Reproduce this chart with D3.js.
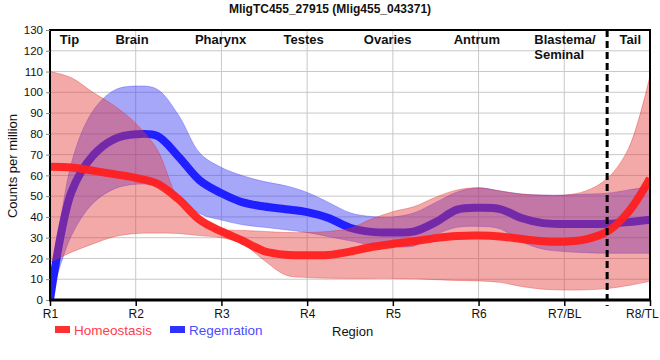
<!DOCTYPE html>
<html>
<head>
<meta charset="utf-8">
<script src="https://cdn.jsdelivr.net/npm/d3@7"></script>
<style>
  html, body { margin: 0; padding: 0; background: #fff; }
  svg { display: block; font-family: "Liberation Sans", Arial, sans-serif; }
</style>
</head>
<body>
<svg id="chart" width="660" height="360"></svg>
<script>
// ---------------- data ----------------
const title = "MligTC455_27915 (Mlig455_043371)";
const regions = ["R1", "R2", "R3", "R4", "R5", "R6", "R7/BL", "R8/TL"];
const tissueLabels = ["Tip", "Brain", "Pharynx", "Testes", "Ovaries", "Antrum", "Blastema/|Seminal", "Tail"];
const yTicks = [0, 10, 20, 30, 40, 50, 60, 70, 80, 90, 100, 110, 120, 130];
const seriesNames = ["Homeostasis", "Regenration"];

// sample positions along the body axis (region index, R1 = 0 ... R8/TL = 7)
const positions = [0, 0.25, 0.5, 0.75, 1, 1.25, 1.5, 1.75, 2, 2.25, 2.5, 2.75, 3, 3.25, 3.5, 3.75,
                   4, 4.25, 4.5, 4.75, 5, 5.25, 5.5, 5.75, 6, 6.25, 6.5, 6.75, 7];

const homeoMean  = [64.2, 63.8, 62.3, 60.6, 58.8, 56, 48.5, 38.5, 33, 28.5, 23.5, 21.8, 21.6, 21.7, 23.3, 25.5,
                    27, 28.3, 29.8, 30.8, 31, 30.6, 29.4, 28.3, 28.1, 29.2, 32.9, 42.5, 58.5];
const homeoUpper = [110, 107, 100, 93.5, 85, 72.5, 48, 37, 34, 33.5, 33, 32.5, 32.5, 33, 34.5, 39,
                    42.5, 45, 49.5, 53, 54, 52.5, 51, 50.5, 50.5, 52.5, 58.5, 73, 108];
const homeoLower = [18, 23, 27, 30.5, 32, 32.2, 32, 31, 30, 27, 19, 12, 10.8, 10.5, 10.4, 10.4,
                    10.4, 10.2, 9.8, 9.4, 9.2, 8.5, 6.5, 5.2, 4.8, 4.9, 5.5, 7, 9];

const regenMean  = [0, 52, 69.5, 77.5, 79.8, 79, 69, 57.5, 51.4, 47, 45, 43.7, 42.3, 39.5, 34.8, 32.8,
                    32.5, 33, 37.5, 43.5, 44.4, 43.8, 39.5, 37, 36.6, 36.6, 36.7, 37.5, 38.7];
const regenUpper = [0, 66, 91, 101, 103, 101.5, 89, 70.6, 63.8, 59.8, 57, 55, 51.8, 47, 42, 40.2,
                    40, 42, 47, 52, 54, 52.5, 51, 50.5, 50.5, 51, 51.4, 53, 54.6];
const regenLower = [0, 31, 46.5, 53.5, 55.7, 55, 49.5, 41.5, 38.5, 36.2, 35, 33.8, 32.5, 30.5, 28.5, 26.5,
                    25.7, 26, 31.5, 35, 35.4, 34.3, 28, 24.5, 23.3, 22.8, 22.5, 22.5, 22.5];

const dividerPos = 6.5; // boundary between Blastema/Seminal and Tail

// ---------------- layout ----------------
const svg = d3.select("#chart");
const W = 660, L = 50, R = 650, T = 30, B = 300;

const x = d3.scaleLinear().domain([0, 7]).range([L, R]);
const y = d3.scaleLinear().domain([0, 130]).range([B, T]);

const labelPos = [0.227, 0.957, 1.99, 2.96, 3.94, 4.98, 5.65, 6.77];

// gridlines
const grid = svg.append("g");
grid.selectAll("line.h").data(yTicks).join("line")
  .attr("x1", L).attr("x2", R)
  .attr("y1", d => y(d)).attr("y2", d => y(d))
  .attr("stroke", "#c8c8c8").attr("stroke-width", 1);
grid.selectAll("line.v").data(regions).join("line")
  .attr("x1", (d, i) => x(i)).attr("x2", (d, i) => x(i))
  .attr("y1", T).attr("y2", B)
  .attr("stroke", "#c8c8c8").attr("stroke-width", 1);

const makeRows = (mean, lo, hi) => positions.map((p, i) => ({p, m: mean[i], lo: lo[i], hi: hi[i]}));
const homeo = makeRows(homeoMean, homeoLower, homeoUpper);
const regen = makeRows(regenMean, regenLower, regenUpper);

const curve = d3.curveCatmullRom.alpha(0.5);
const area = d3.area().curve(curve)
  .x(d => x(d.p)).y0(d => y(Math.max(0, d.lo))).y1(d => y(d.hi));
const line = d3.line().curve(curve)
  .x(d => x(d.p)).y(d => y(d.m));

svg.append("clipPath").attr("id", "plotclip").append("rect")
  .attr("x", L).attr("y", T).attr("width", R - L).attr("height", B - T);

const plot = svg.append("g").attr("clip-path", "url(#plotclip)");
plot.append("path").datum(regen).attr("d", area)
  .attr("fill", "rgb(60,60,245)").attr("fill-opacity", 0.45)
  .attr("stroke", "rgb(60,60,245)").attr("stroke-opacity", 0.35).attr("stroke-width", 1);
plot.append("path").datum(regen).attr("d", line)
  .attr("fill", "none").attr("stroke", "#1f1fff").attr("stroke-width", 8);
plot.append("path").datum(homeo).attr("d", area)
  .attr("fill", "rgb(230,55,55)").attr("fill-opacity", 0.43)
  .attr("stroke", "rgb(220,40,40)").attr("stroke-opacity", 0.35).attr("stroke-width", 1);
plot.append("path").datum(homeo).attr("d", line)
  .attr("fill", "none").attr("stroke", "#ff1f1f").attr("stroke-opacity", 0.95).attr("stroke-width", 8);

// frame
svg.append("line").attr("x1", L).attr("x2", R).attr("y1", T).attr("y2", T)
  .attr("stroke", "#000").attr("stroke-width", 2);
svg.append("line").attr("x1", R).attr("x2", R).attr("y1", T - 1).attr("y2", B)
  .attr("stroke", "#000").attr("stroke-width", 2);

// y axis
const yAxis = d3.axisLeft(y).tickValues(yTicks).tickSize(4).tickPadding(3);
const gy = svg.append("g").attr("transform", `translate(${L},0)`).call(yAxis);
gy.select(".domain").attr("stroke", "#000").attr("stroke-width", 2).attr("d", `M0,${T - 1}V${B}`);
gy.selectAll(".tick line").attr("stroke", "#888");
gy.selectAll(".tick text").attr("font-size", 11.5).attr("fill", "#111")
  .attr("font-family", "Liberation Sans, Arial, sans-serif");

// x axis
const xAxis = d3.axisBottom(x).tickValues(d3.range(regions.length)).tickFormat(i => regions[i])
  .tickSize(6).tickPadding(3);
const gx = svg.append("g").attr("transform", `translate(0,${B})`).call(xAxis);
gx.select(".domain").attr("stroke", "#000").attr("stroke-width", 3).attr("d", `M${L - 1},0H${R + 1}`);
gx.selectAll(".tick line").attr("stroke", "#000").attr("stroke-width", 1.5);
gx.selectAll(".tick text").attr("font-size", 12).attr("fill", "#111")
  .attr("font-family", "Liberation Sans, Arial, sans-serif");
// keep the last tick label inside the picture
gx.selectAll(".tick text").each(function () {
  const bb = this.getBBox();
  const tx = +this.parentNode.getAttribute("transform").match(/translate\(([-\d.]+)/)[1];
  const overflow = tx + bb.x + bb.width - (W - 1);
  if (overflow > 0) d3.select(this).attr("x", -overflow);
});

// divider
svg.append("line").attr("x1", x(dividerPos)).attr("x2", x(dividerPos))
  .attr("y1", T).attr("y2", B + 6)
  .attr("stroke", "#000").attr("stroke-width", 3).attr("stroke-dasharray", "7,4");

// tissue labels
tissueLabels.forEach((t, i) => {
  const parts = t.split("|");
  const txt = svg.append("text")
    .attr("x", x(labelPos[i])).attr("y", 44)
    .attr("text-anchor", parts.length > 1 ? "start" : "middle")
    .attr("font-size", 13).attr("font-weight", "bold").attr("fill", "#111");
  parts.forEach((p, k) => {
    txt.append("tspan").attr("x", x(labelPos[i])).attr("dy", k === 0 ? 0 : 15).text(p);
  });
});

// title
svg.append("text").attr("x", 330).attr("y", 13).attr("text-anchor", "middle")
  .attr("font-size", 12).attr("font-weight", "bold").attr("fill", "#111").text(title);

// y label
svg.append("text").attr("transform", `translate(17,${(T + B) / 2 + 1}) rotate(-90)`)
  .attr("text-anchor", "middle").attr("font-size", 13).attr("fill", "#111")
  .text("Counts per million");

// x label
svg.append("text").attr("x", 332).attr("y", 336).attr("font-size", 13).attr("fill", "#111").text("Region");

// legend
const legendColors = ["#ff3030", "#3030ff"];
const legendText = ["#ff3c4c", "#4c4cff"];
const legendX = [55, 170];
seriesNames.forEach((n, i) => {
  svg.append("rect").attr("x", legendX[i]).attr("y", 326).attr("width", 15).attr("height", 7)
    .attr("fill", legendColors[i]);
  svg.append("text").attr("x", legendX[i] + 19).attr("y", 335).attr("font-size", 13.5)
    .attr("fill", legendText[i]).text(n);
});
</script>
</body>
</html>
